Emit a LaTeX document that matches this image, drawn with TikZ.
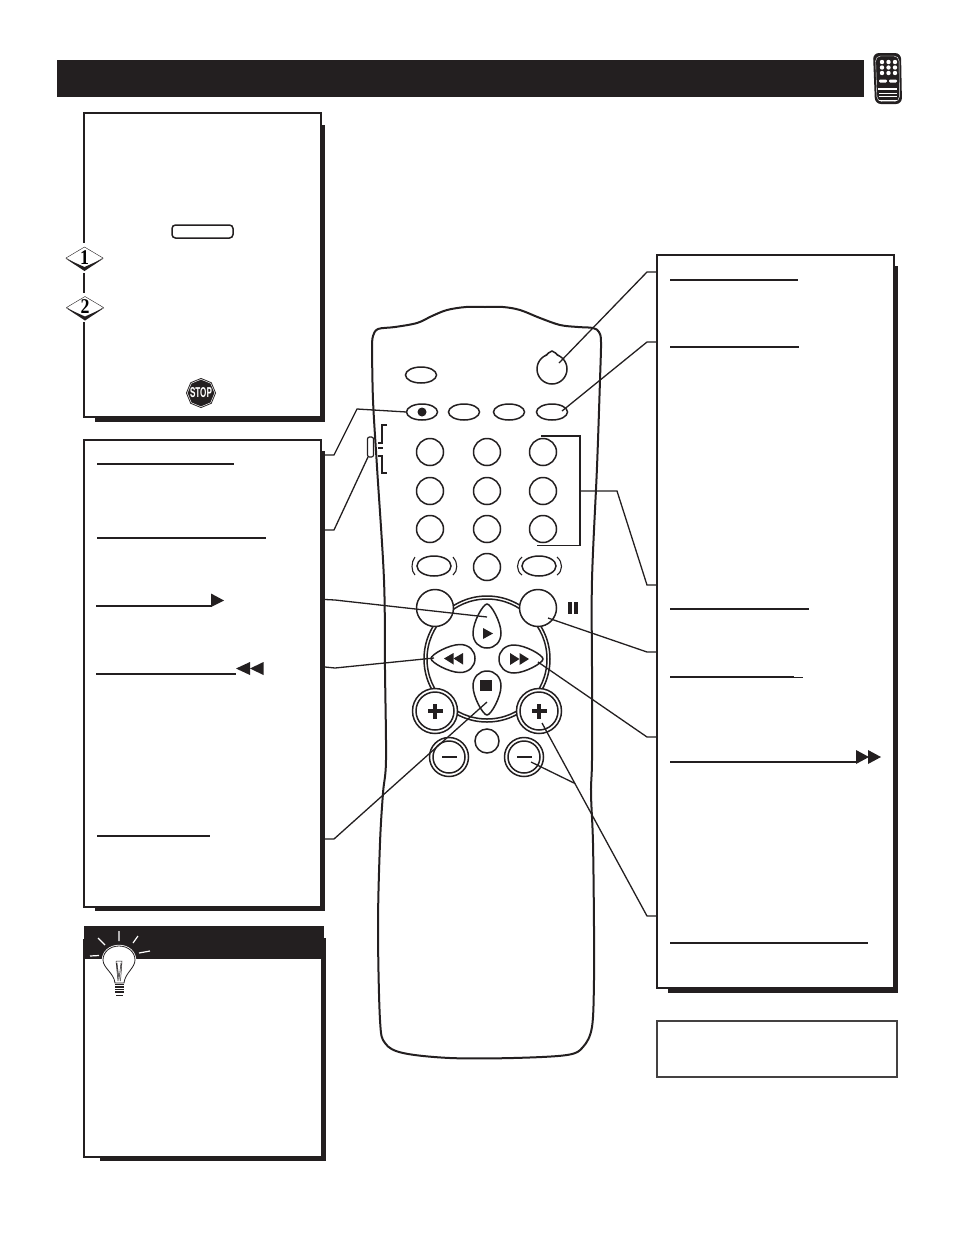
\documentclass[tikz,border=0pt]{standalone}
\usepackage{fontspec}
\usepackage{graphicx}
\setmainfont{Liberation Serif}
\newfontfamily\heros{TeX Gyre Heros}
\usetikzlibrary{shapes.geometric}
\definecolor{ink}{HTML}{231F20}
\tikzset{
  panel/.style={draw=ink,fill=white,line width=2pt,rectangle,inner sep=0pt,outer sep=0pt,anchor=north west},
  rule/.style={draw=ink,line width=1.5pt},
  thinrule/.style={draw=ink,line width=1.1pt},
  lead/.style={draw=ink,line width=1.3pt,line join=miter},
  shell/.style={draw=ink,line width=2pt,fill=white},
  oval/.style={ellipse,draw=ink,fill=white,line width=1.5pt,inner sep=0pt,outer sep=0pt,minimum width=31pt,minimum height=16pt},
  key/.style={circle,draw=ink,fill=white,line width=1.5pt,inner sep=0pt,outer sep=0pt,minimum size=27pt},
  glyph/.style={fill=ink,draw=none},
  badge/.style={diamond,aspect=1.7,draw=ink,line width=0.4pt,fill=white,inner sep=0pt,outer sep=0pt,minimum width=37pt,minimum height=22pt},
  digit/.style={inner sep=0pt,outer sep=0pt,font=\fontsize{21}{21}\selectfont\bfseries},
  octa/.style={regular polygon,regular polygon sides=8,shape border rotate=22.5,fill=ink,inner sep=0pt,outer sep=0pt},
  tear/.pic={\draw[draw=ink,fill=white,line width=1.5pt] (0,-29) .. controls (4,-29) and (14,-11) .. (14,0) .. controls (14,9) and (8,15) .. (0,15) .. controls (-8,15) and (-14,9) .. (-14,0) .. controls (-14,-11) and (-4,-29) .. (0,-29) -- cycle;}
}
\begin{document}
\begin{tikzpicture}[x=1pt,y=-1pt]
\useasboundingbox (0,0) rectangle (954,1235);
\fill[white] (0,0) rectangle (954,1235);
% header
\node[panel,fill=ink,draw=none,minimum width=807pt,minimum height=37pt] (header) at (57,60) {};
% small remote icon
\fill[ink,rounded corners=6pt] (873,53) -- (901,53) -- (902,104) -- (875,104) -- cycle;
\draw[white,line width=0.4pt,rounded corners=5pt] (875.5,56) -- (899,56) -- (899.5,101.5) -- (877,101.5) -- cycle;
\foreach \yy in {62,67.5,73}\foreach \xx in {882,888.5,895}{\fill[white] (\xx,\yy) circle (2.2pt);}
\fill[white,rounded corners=1.2pt] (879,79.5) rectangle (887,82.5);
\fill[white,rounded corners=1.2pt] (889,79.5) rectangle (897,82.5);
\fill[white] (878,87.5) rectangle (897,90);
\foreach \yy in {93,96.5,100}{\draw[white,line width=0.6pt] (879,\yy) -- (897,\yy);}
% panel A
\fill[ink] (95,125) rectangle (325,421.5);
\node[panel,minimum width=237pt,minimum height=304pt] (panelA) at (84,113) {};
\fill[white] (80,243) rectangle (88,273);
\fill[white] (80,293) rectangle (88,322);
\node[draw=ink,fill=white,line width=1.5pt,rounded corners=3.5pt,inner sep=0pt,outer sep=0pt,minimum width=61pt,minimum height=13pt] (okBtn) at (202.5,231.5) {};
% diamonds
\node[badge] (stepA) at (84.5,258) {};
\fill[ink] (65.5,258.5) -- (84.5,271) -- (103.5,258.5) -- (84.5,267) -- cycle;
\node[digit] (digitA) at (84.5,257.5) {\scalebox{0.85}[1]{1}};
\node[badge] (stepB) at (85,307.5) {};
\fill[ink] (66,308) -- (85,320.5) -- (104,308) -- (85,316.5) -- cycle;
\node[digit] (digitB) at (85,307) {\scalebox{0.85}[1]{2}};
% stop sign
\node[octa,draw=none,minimum size=30pt] (stopOuter) at (201,393) {};
\node[octa,draw=white,line width=0.5pt,minimum size=27.5pt] (stopInner) at (201,393) {};
\node[inner sep=0pt,outer sep=0pt,text=white] (stopSign) at (201,393) {\scalebox{0.6}[1]{\heros\fontsize{13.5}{13.5}\selectfont\bfseries STOP}};
% panel B
\fill[ink] (95,451) rectangle (325,911);
\node[panel,minimum width=237pt,minimum height=467pt] (panelB) at (84,440) {};
\draw[rule] (97,464) -- (234,464);
\draw[rule] (97,538) -- (266,538);
\draw[thinrule] (96,606) -- (212,606);
\draw[thinrule] (96,674) -- (236,674);
\draw[rule] (97,836) -- (210,836);
\fill[glyph] (211,593.5) -- (224,600.5) -- (211,607) -- cycle;
\fill[glyph] (236,668.5) -- (250,662) -- (250,675) -- cycle;
\fill[glyph] (250,668.5) -- (263.5,662) -- (263.5,675) -- cycle;
% tip panel
\fill[ink] (100,938) rectangle (326,1161);
\node[panel,minimum width=238pt,minimum height=217pt] (panelD) at (84,940) {};
\node[panel,fill=ink,draw=none,minimum width=240pt,minimum height=33pt] (tipHead) at (84,926) {};
% bulb
\draw[white,line width=1.2pt] (119,931) -- (119,941) (98,938) -- (105,945) (138,936) -- (133,943) (90,956) -- (99,955.5) (139,953) -- (150,951);
\path[draw=white,line width=2.4pt] (119,946) .. controls (110,946) and (103,952) .. (103,960) .. controls (103,968) and (114,973) .. (115,983) -- (124,983) .. controls (125,973) and (135,968) .. (135,960) .. controls (135,952) and (128,946) .. (119,946) -- cycle;
\draw[ink,fill=white,line width=0.8pt] (119,946) .. controls (110,946) and (103,952) .. (103,960) .. controls (103,968) and (114,973) .. (115,983) -- (124,983) .. controls (125,973) and (135,968) .. (135,960) .. controls (135,952) and (128,946) .. (119,946) -- cycle;
\draw[ink,line width=0.5pt] (116,961) -- (122,961) -- (120.5,981) (116,961) -- (118,981) (117,963) -- (119,979) -- (121,963);
\foreach \yy in {984.5,987,989.5,992}{\draw[ink,line width=1.4pt] (115,\yy) -- (124,\yy);}
\draw[ink,line width=1pt] (116,995) -- (123,995);
% panel C
\fill[ink] (668,266) rectangle (898,992.5);
\node[panel,minimum width=237pt,minimum height=733pt] (panelC) at (657,255) {};
\draw[rule] (670,280) -- (798,280);
\draw[thinrule] (670,347) -- (799,347);
\draw[rule] (670,609) -- (809,609);
\draw[rule] (670,677) -- (794,677);
\draw[ink,line width=0.7pt] (794,677.3) -- (803,677.3);
\draw[thinrule] (670,762) -- (857,762);
\draw[rule] (670,943) -- (868,943);
\fill[glyph] (856,750) -- (869,757) -- (856,764) -- cycle;
\fill[glyph] (868,750) -- (881,757) -- (868,764) -- cycle;
% note box
\node[panel,draw=ink!85,line width=1.4pt,minimum width=240pt,minimum height=56pt] (noteBox) at (657,1021) {};
% remote shell
\draw[shell] plot[smooth,tension=0.55] coordinates {(372,345) (373,336) (378,329) (395,327) (417,323) (432,316) (447,310) (466,307) (485,307) (503,307) (520,310) (540,318) (560,325) (578,327) (593,328) (599,332) (601,342) (600,380) (597,467) (592,580) (592,670) (592,760) (591,793) (593,843) (594,927) (594,980) (592,1027) (583,1047) (567,1055) (513,1058) (450,1058) (403,1053) (385,1043) (380,1020) (378,927) (380,843) (383,793) (386,760) (385,670) (384,580) (377,467) (373,400) (372,345)};
% side switch
\draw[draw=ink,fill=white,line width=1.2pt,rounded corners=2pt] (367.5,437) rectangle (373.5,457);
\coordinate (sideSwitch) at (368,457);
\draw[ink,line width=1.1pt] (387,425) -- (382,425) -- (382,443) -- (378,443);
\draw[ink,line width=1.1pt] (378,448) -- (383,448);
\draw[ink,line width=1.1pt] (378,456) -- (382,456) -- (382,473) -- (387,473);
% buttons
\node[oval] (topOval) at (421,375) {};
\node[key,minimum size=30pt] (powerBtn) at (552,369) {};
\draw[draw=ink,fill=white,line width=1.5pt] (546,355.5) .. controls (548,354.5) and (549,351) .. (552,351) .. controls (555,351) and (556,354.5) .. (558,355.5);
\fill[white] (547.5,355.5) -- (552,352.5) -- (556.5,355.5) -- (552,357) -- cycle;
\node[oval] (recBtn) at (422,412) {};
\fill[ink] (422,412) circle (4.5pt);
\node[oval] (ovalB) at (464,412) {};
\node[oval] (ovalC) at (509,412) {};
\node[oval] (ovalD) at (552,412) {};
\node[key] (k1) at (430,452) {};
\node[key] (k2) at (487,452) {};
\node[key] (k3) at (543,452) {};
\node[key] (k4) at (430,491) {};
\node[key] (k5) at (487,491) {};
\node[key] (k6) at (543,491) {};
\node[key] (k7) at (430,529) {};
\node[key] (k8) at (487,529) {};
\node[key] (k9) at (543,529) {};
\node[key] (k0) at (487,567) {};
\node[oval,minimum width=34pt,minimum height=20pt] (ovalL) at (434,566) {};
\node[oval,minimum width=34pt,minimum height=20pt] (ovalR) at (539,566) {};
\draw[ink,line width=1.1pt] (415,557) .. controls (411,562) and (411,571) .. (415,575) (453,557) .. controls (458,562) and (458,571) .. (453,575);
\draw[ink,line width=1.1pt] (522,557) .. controls (516,562) and (516,571) .. (522,575) (557,557) .. controls (563,562) and (563,571) .. (557,575);
% ring
\node[key,minimum size=126pt] (ringOuter) at (487,659) {};
\node[key,minimum size=120pt] (ringInner) at (487,659) {};
\node[key,minimum size=37pt] (circL) at (435,608) {};
\node[key,minimum size=37pt] (pauseBtn) at (538,608) {};
\fill[glyph] (568,602) rectangle (572,613.5);
\fill[glyph] (574,602) rectangle (578,613.5);
\pic at (487,633) {tear};
\pic[rotate=180] at (487,686) {tear};
\pic[rotate=90] at (460,658.5) {tear};
\pic[rotate=-90] at (514,659) {tear};
\fill[glyph] (483,628) -- (493,633.5) -- (483,639) -- cycle;
\fill[glyph] (480,680) rectangle (492,691);
\fill[glyph] (444,658.5) -- (453.5,653) -- (453.5,664.5) -- cycle;
\fill[glyph] (453.5,658.5) -- (463,653) -- (463,664.5) -- cycle;
\fill[glyph] (510,653) -- (519.5,659) -- (510,665) -- cycle;
\fill[glyph] (519.5,653) -- (529,659) -- (519.5,665) -- cycle;
% volume / channel keys
\foreach \nm/\xx in {plusL/435,plusR/539}{
  \node[key,minimum size=45pt] (\nm) at (\xx,711) {};
  \node[key,minimum size=38pt] at (\xx,711) {};
  \fill[glyph] (\xx-7.5,709.3) rectangle (\xx+7.5,712.7);
  \fill[glyph] (\xx-1.7,703.5) rectangle (\xx+1.7,718.5);
}
\node[key,minimum size=24pt] (muteBtn) at (487,741) {};
\foreach \nm/\xx in {minusL/449,minusR/524}{
  \node[key,minimum size=39pt] (\nm) at (\xx,757) {};
  \node[key,minimum size=32pt] at (\xx,757) {};
  \fill[glyph] (\xx-7.5,755.8) rectangle (\xx+7.5,758.4);
}
% connector ends
\coordinate (aPower) at (559,363);
\coordinate (aPlay) at (487,617);
\coordinate (aRew) at (434,658);
\coordinate (aStop) at (487,702);
\coordinate (aPause) at (548,618);
\coordinate (aFF) at (538,662);
\coordinate (aPlusR) at (542,723);
\coordinate (aMinusR) at (531,762);
\coordinate (aJoin) at (575,783.5);
\coordinate (aOvalD) at (562,411);
% connectors
\draw[lead] (recBtn.west) -- (357,409) -- (334,455) -- (325,455);
\draw[lead] (sideSwitch) -- (334,530) -- (325,530);
\draw[lead] (aPlay) -- (335,600) -- (325,599.5);
\draw[lead] (aRew) -- (335,668) -- (325,667);
\draw[lead] (aStop) -- (334,839) -- (325,839);
\draw[lead] (aPower) -- (647,272) -- (657,272);
\draw[lead] (aOvalD) -- (647,342) -- (657,342);
\draw[lead] (541,436) -- (580,436) -- (580,545.5) -- (537,545.5);
\draw[lead] (580,491) -- (617,491) -- (647,585) -- (657,585);
\draw[lead] (aPause) -- (647,652) -- (657,652);
\draw[lead] (aFF) -- (647,737) -- (657,737);
\draw[lead] (aPlusR) -- (647,916) -- (657,916);
\draw[lead] (aMinusR) -- (aJoin);
\end{tikzpicture}
\end{document}
